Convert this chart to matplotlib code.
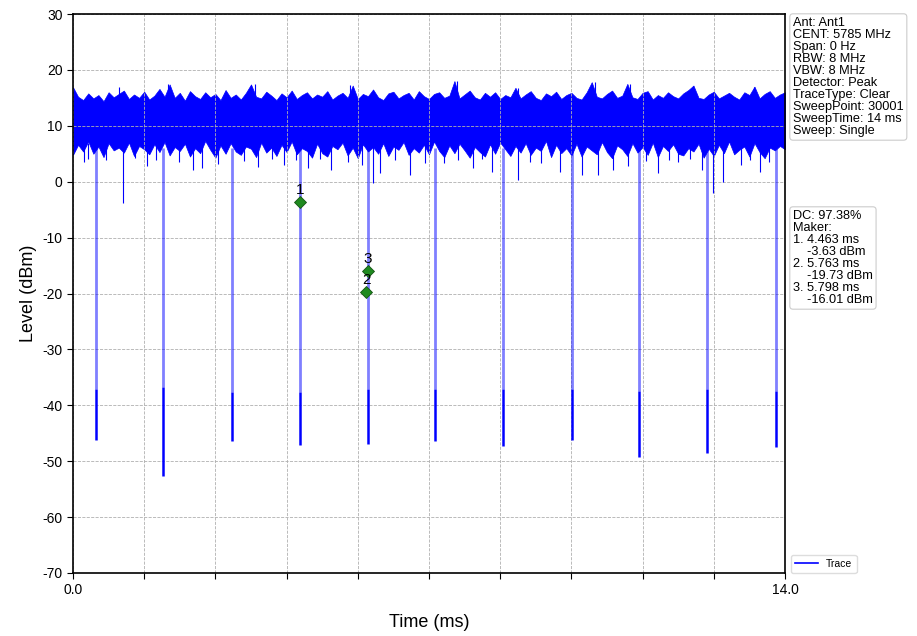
import numpy as np
import matplotlib
matplotlib.use("Agg")
import matplotlib.pyplot as plt

plt.rcParams['font.family'] = ['Liberation Sans', 'DejaVu Sans']
plt.rcParams['axes.unicode_minus'] = False

# noise floor envelope of the trace, sampled every 0.1 ms
env_t = np.round(np.arange(0, 14.0001, 0.1), 2)
env_high = [16.9, 15.2, 14.6, 15.8, 14.9, 15.5, 14.4, 16.0, 15.1, 15.7,
            16.3, 14.8, 15.6, 15.0, 16.1, 14.7, 15.4, 16.6, 15.2, 17.4,
            15.0, 15.9, 14.5, 16.2, 15.3, 14.8, 16.0, 15.1, 15.7, 14.6,
            16.4, 15.0, 15.6, 14.7, 15.9, 17.4, 15.2, 14.9, 16.1, 15.4,
            14.6, 15.8, 15.1, 16.3, 14.8, 15.5, 16.0, 14.9, 15.6, 15.2,
            16.2, 14.7, 15.4, 15.9, 15.0, 17.2, 14.8, 15.7, 15.3, 16.5,
            15.1, 14.6, 15.8, 16.1, 14.9, 15.5, 15.9, 14.7, 16.2, 15.3,
            14.8, 15.7, 16.0, 15.0, 15.4, 18.0, 14.9, 15.6, 16.3, 15.1,
            14.7, 15.9, 15.2, 16.0, 14.8, 15.5, 15.1, 16.8, 14.9, 15.6,
            16.2, 15.0, 14.6, 15.8, 15.3, 16.1, 14.8, 15.5, 15.9, 15.0,
            14.7, 16.0, 17.8, 15.2, 14.9, 15.7, 16.3, 15.0, 15.4, 17.5,
            15.1, 14.8, 15.9, 16.2, 14.7, 15.5, 15.0, 16.0, 15.3, 14.9,
            15.8, 16.4, 17.2, 15.0, 14.8, 15.6, 16.1, 14.9, 15.4, 15.9,
            15.2, 14.7, 16.0, 15.5, 17.0, 14.9, 15.7, 16.2, 15.0, 15.6,
            16.0]
env_low = [4.8, 6.6, 5.4, 7.2, 5.0, 6.3, 4.4, 6.9, 5.6, 6.1,
           5.2, 7.0, 4.6, 6.4, 5.8, 4.9, 6.7, 5.3, 7.1, 4.7,
           6.2, 5.5, 6.8, 4.5, 6.0, 5.1, 7.3, 5.7, 4.3, 6.5,
           5.0, 6.9, 5.4, 4.8, 6.3, 5.9, 4.4, 7.0, 5.2, 6.1,
           4.6, 6.6, 5.3, 7.2, 4.9, 6.0, 5.5, 4.3, 6.8, 5.1,
           4.5, 6.4, 5.8, 7.0, 4.7, 6.1, 4.2, 6.7, 5.4, 6.2,
           5.0, 6.9, 4.6, 6.3, 5.7, 7.1, 4.8, 6.0, 5.2, 6.6,
           4.9, 7.2, 5.5, 4.4, 6.5, 5.1, 6.8, 5.6, 4.3, 6.2,
           5.3, 4.5, 6.7, 5.0, 7.0, 5.8, 4.6, 6.4, 5.2, 6.9,
           4.8, 6.1, 5.5, 7.3, 4.4, 6.6, 5.1, 6.0, 4.7, 6.8,
           4.5, 6.3, 5.6, 4.9, 7.1, 5.3, 4.2, 6.5, 5.8, 4.6,
           6.9, 5.2, 6.2, 4.8, 7.0, 4.4, 6.4, 5.5, 6.7, 5.0,
           4.7, 6.0, 5.4, 6.8, 4.3, 5.9, 4.6, 6.6, 5.1, 7.2,
           4.9, 5.7, 6.3, 4.5, 6.9, 5.3, 4.2, 6.1, 5.6, 6.4,
           5.8]

# isolated noise spikes below the floor (time ms, level dBm)
spike_dn_t = [0.22, 0.30, 0.64, 0.98, 1.22, 1.45, 1.63, 2.08, 2.36, 2.54,
              2.85, 3.36, 3.64, 3.92, 4.15, 4.38, 4.62, 4.85, 5.07, 5.41,
              5.68, 5.90, 6.04, 6.34, 6.63, 6.92, 7.30, 7.58, 7.86, 8.05,
              8.24, 8.75, 8.98, 9.20, 9.58, 10.00, 10.32, 10.62, 10.91, 11.27,
              11.50, 11.71, 11.90, 12.14, 12.37, 12.58, 12.78, 13.13, 13.32,
              13.50, 13.68]
spike_dn_v = [3.6, 4.0, 3.8, -3.8, 4.2, 2.8, 3.9, 3.5, 2.1, 2.5,
              3.2, 3.7, 2.6, 4.1, 3.0, 3.8, 2.5, 4.0, 2.1, 3.6,
              3.0, -0.2, 1.6, 3.9, 1.2, 3.4, 3.4, 3.8, 2.5, 4.0,
              1.7, 0.3, 3.6, 3.3, 1.7, 1.2, 1.2, 2.1, 2.8, 3.7,
              1.6, 3.9, 3.5, 4.1, 2.1, -2.0, 0.0, 3.0, 3.9,
              1.7, 3.6]
spike_up_t = [0.90, 1.87, 3.58, 5.45, 7.55, 8.75, 10.26, 10.95, 12.20, 13.40]
spike_up_v = [17.0, 17.5, 17.5, 17.3, 18.0, 16.8, 17.8, 17.5, 17.2, 17.0]

# periodic gaps in the burst
dip_t = [0.452, 1.776, 3.132, 4.463, 5.794, 7.118, 8.461, 9.805, 11.128, 12.471, 13.822]
dip_floor = [-37.0, -36.7, -37.6, -37.6, -37.0, -37.0, -37.0, -37.0, -37.5, -37.0, -37.5]
dip_bottom = [-46.2, -52.6, -46.4, -47.1, -47.0, -46.4, -47.3, -46.2, -49.2, -48.5, -47.5]

# markers
mk_t = [4.463, 5.763, 5.798]
mk_v = [-3.63, -19.73, -16.01]
duty_cycle = 97.38

settings = ["Ant: Ant1", "CENT: 5785 MHz", "Span: 0 Hz", "RBW: 8 MHz",
            "VBW: 8 MHz", "Detector: Peak", "TraceType: Clear",
            "SweepPoint: 30001", "SweepTime: 14 ms", "Sweep: Single"]

fig = plt.figure(figsize=(9.17, 6.36), dpi=100)
ax = fig.add_axes([73 / 917, 1 - 573 / 636, 712 / 917, 559 / 636])

blue = '#0000ff'
ax.fill_between(env_t, env_low, env_high, color=blue, lw=0.5)
ax.vlines(spike_dn_t, 7, spike_dn_v, color=blue, lw=0.8)
ax.vlines(spike_up_t, 12, spike_up_v, color=blue, lw=0.8)
ax.vlines(dip_t, dip_floor, 6, color=blue, lw=2.0, alpha=0.5)
ax.vlines(dip_t, dip_bottom, dip_floor, color=blue, lw=1.8)

ax.plot(mk_t, mk_v, ls='none', marker='D', ms=6.5, color='#1f8a1f',
        mec='#145214', mew=0.6, zorder=5)
for i, (t, v) in enumerate(zip(mk_t, mk_v)):
    ax.annotate(str(i + 1), (t, v), xytext=(0, 3.5), textcoords='offset points',
                ha='center', va='bottom', fontsize=11, zorder=6)

ax.set_xlim(0, 14)
ax.set_ylim(-70, 30)
ax.set_xticks(np.linspace(0, 14, 11))
ax.set_xticklabels(['0.0'] + [''] * 9 + ['14.0'])
ax.set_yticks(np.arange(-70, 31, 10))
ax.tick_params(labelsize=10, direction='out', length=4)
ax.grid(True, ls='--', color='#b0b0b0', lw=0.6)
for s in ax.spines.values():
    s.set_linewidth(1.2)

ax.set_xlabel('Time (ms)', fontsize=13, labelpad=12)
ax.set_ylabel('Level (dBm)', fontsize=13, labelpad=4)

box = dict(boxstyle='round,pad=0.25', fc='white', ec='#cccccc', lw=0.8)
fig.text(793 / 917, 1 - 17 / 636, "\n".join(settings), fontsize=9.2,
         va='top', ha='left', linespacing=1.0, bbox=box)

marker_lines = [f"DC: {duty_cycle:.2f}%", "Maker:"]
for i, (t, v) in enumerate(zip(mk_t, mk_v)):
    marker_lines.append(f"{i + 1}. {t:.3f} ms")
    marker_lines.append(f"    {v:.2f} dBm")
fig.text(793 / 917, 1 - 210 / 636, "\n".join(marker_lines), fontsize=9.2,
         va='top', ha='left', linespacing=1.0, bbox=box)

ax.legend(loc='lower left', bbox_to_anchor=(1.008, 0.0), fontsize=7.5,
          handlelength=2.2, borderaxespad=0, framealpha=1, edgecolor='#dddddd',
          handles=[plt.Line2D([], [], color=blue, lw=1.2)], labels=['Trace'])

fig.savefig('out.png', dpi=100)
